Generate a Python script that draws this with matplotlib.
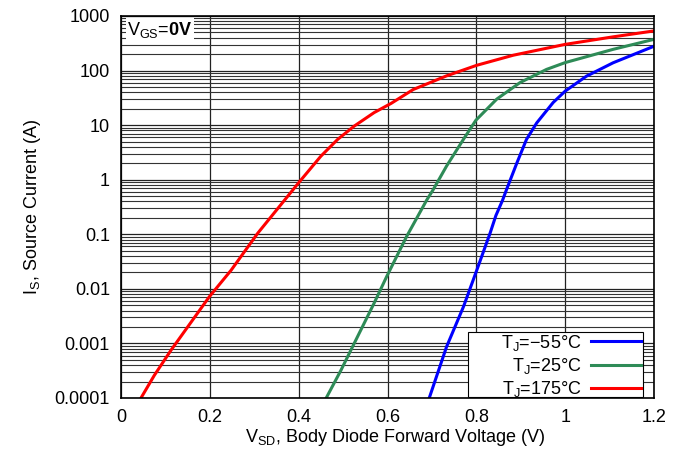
import matplotlib.pyplot as plt
from matplotlib.patches import Rectangle
from matplotlib.ticker import LogLocator, FixedLocator, NullFormatter

plt.rcParams['font.family'] = ['Liberation Sans', 'DejaVu Sans']
plt.rcParams['mathtext.fontset'] = 'custom'
plt.rcParams['mathtext.rm'] = 'Liberation Sans'
plt.rcParams['mathtext.bf'] = 'Liberation Sans:bold'

# values
v_n55 = [0.694, 0.733, 0.771, 0.801, 0.831, 0.844, 0.859, 0.868, 0.891, 0.913, 0.936,
         0.973, 1.000, 1.048, 1.108, 1.198]
i_n55 = [1e-4, 8.7e-4, 4.7e-3, 0.022, 0.105, 0.22, 0.42, 0.66, 2.0, 5.5, 11,
         26, 42, 79, 139, 275]

v_25 = [0.462, 0.495, 0.525, 0.570, 0.598, 0.643, 0.669, 0.688, 0.703, 0.733, 0.771,
        0.799, 0.846, 0.898, 0.958, 1.000, 1.108, 1.198]
i_25 = [1e-4, 3.2e-4, 1e-3, 5.5e-3, 0.0167, 0.091, 0.22, 0.42, 0.66, 1.78, 5.5,
        12.3, 30, 60, 105, 140, 245, 370]

v_175 = [0.045, 0.075, 0.113, 0.150, 0.199, 0.248, 0.308, 0.368, 0.400, 0.450, 0.488,
         0.525, 0.570, 0.608, 0.658, 0.733, 0.801, 0.883, 1.000, 1.108, 1.198]
i_175 = [1e-4, 2.6e-4, 7.6e-4, 2.0e-3, 7.2e-3, 0.022, 0.105, 0.42, 0.88, 2.7, 5.5,
         9.6, 17, 25, 45, 80, 125, 191, 302, 415, 530]

labels = ['T$_\\mathregular{J}$=\u221255\u00b0C', 'T$_\\mathregular{J}$=25\u00b0C', 'T$_\\mathregular{J}$=175\u00b0C']
colors = ['#0000ff', '#2e8b57', '#ff0000']

x_ticks = [0, 0.2, 0.4, 0.6, 0.8, 1.0, 1.2]
x_ticklabels = ['0', '0.2', '0.4', '0.6', '0.8', '1', '1.2']
y_ticks = [1e-4, 1e-3, 1e-2, 0.1, 1, 10, 100, 1000]
y_ticklabels = ['0.0001', '0.001', '0.01', '0.1', '1', '10', '100', '1000']

W, H = 677, 454
fig = plt.figure(figsize=(W / 100, H / 100), dpi=100)
ax = fig.add_axes([121 / W, 1 - 398 / H, 533 / W, 382 / H])

ax.set_yscale('log')
ax.set_xlim(0, 1.2)
ax.set_ylim(1e-4, 1000)

ax.yaxis.set_major_locator(FixedLocator(y_ticks))
ax.set_yticklabels(y_ticklabels)
ax.yaxis.set_minor_locator(LogLocator(base=10, subs=range(2, 10), numticks=20))
ax.yaxis.set_minor_formatter(NullFormatter())
ax.set_xticks(x_ticks)
ax.set_xticklabels(x_ticklabels)

ax.grid(True, which='major', axis='both', color='#222222', linewidth=0.9)
ax.grid(True, which='minor', axis='y', color='#333333', linewidth=0.8)
ax.set_axisbelow(True)
ax.tick_params(which='both', length=0, labelsize=13, pad=8)
for s in ax.spines.values():
    s.set_linewidth(1.2)
    s.set_color('black')

ax.plot(v_n55, i_n55, color=colors[0], lw=2.2, label=labels[0])
ax.plot(v_25, i_25, color=colors[1], lw=2.2, label=labels[1])
ax.plot(v_175, i_175, color=colors[2], lw=2.2, label=labels[2])

ax.set_xlabel('V$_\\mathregular{SD}$, Body Diode Forward Voltage (V)', fontsize=13, labelpad=4)
ax.xaxis.set_label_coords(0.514, -0.075)
ax.set_ylabel('I$_\\mathregular{S}$, Source Current (A)', fontsize=13, labelpad=8)

ax.text(0.012, 0.99, 'V$_\\mathregular{GS}$=$\\mathbf{0V}$', transform=ax.transAxes,
        ha='left', va='top', fontsize=13,
        bbox=dict(facecolor='white', edgecolor='none', pad=1))

# legend box in the reference: x 468..643 px, y 332..397 px
box = Rectangle((468 / W, 1 - 397 / H), (643 - 468) / W, (397 - 332) / H,
                transform=fig.transFigure, facecolor='white', edgecolor='black',
                linewidth=0.8, zorder=4)
ax.add_artist(box)
leg = ax.legend(loc='lower right', bbox_to_anchor=((643 - 121) / 533, -3 / 382),
                markerfirst=False, fontsize=13, frameon=False,
                handlelength=2.8, borderpad=0.1, labelspacing=0.18,
                borderaxespad=0, handletextpad=0.5)
for t in leg.get_texts():
    t.set_ha('right')

fig.savefig('out.png', dpi=100)
